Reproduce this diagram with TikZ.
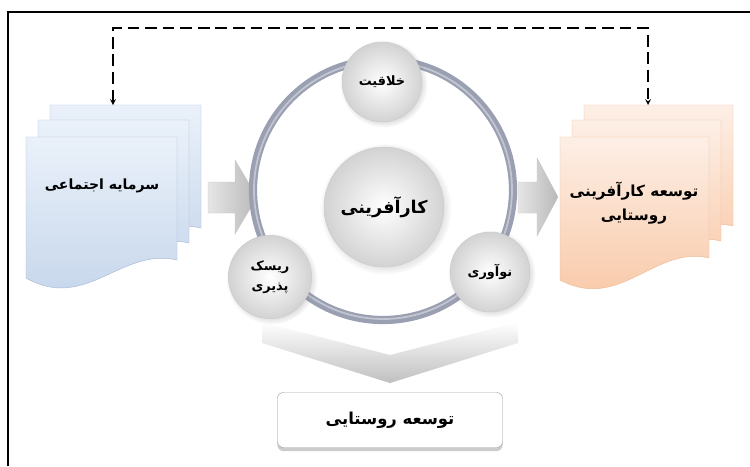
\documentclass[tikz,border=0pt]{standalone}
\usepackage{fontspec}
\newfontfamily\fa[Script=Arabic]{DejaVu Sans}
\TeXXeTstate=1
\usetikzlibrary{shadows}
\definecolor{capTop}{HTML}{EAF1FA}
\definecolor{capBot}{HTML}{C3D4EA}
\definecolor{capLine}{HTML}{A7BAD5}
\definecolor{rurTop}{HTML}{FDEFE6}
\definecolor{rurBot}{HTML}{F8C6A3}
\definecolor{rurLine}{HTML}{EDBB98}
\definecolor{ringGray}{HTML}{9AA0B2}
\tikzset{
  ball/.style={circle, inner color=white, outer color=gray!35, draw=gray!40,
    circular drop shadow={opacity=0.25}, align=center, font=\fa\bfseries},
  capdoc/.style={draw=capLine, top color=capTop, bottom color=capBot},
  rurdoc/.style={draw=rurLine, top color=rurTop, bottom color=rurBot},
  doctext/.style={align=center, font=\fa\bfseries\fontsize{13}{21}\selectfont},
  blockarrow/.style={draw=gray!45, left color=gray!20, right color=gray!55},
  feedback/.style={<->, >=stealth, line width=1.2pt, dash pattern=on 10pt off 5pt}
}
\begin{document}
\begin{tikzpicture}[x=0.03cm, y=-0.03cm]
    \useasboundingbox (0,0) rectangle (750,466);
    \draw[line width=1.5pt] (8,466) -- (8,12) -- (750,12);

    % stacked documents
    \foreach \dx/\dy in {24/-32,12/-17,0/0}{
        \path[capdoc, shift={(26+\dx,137+\dy)}] (0,0) -- (151,0) -- (151,123)
            .. controls (95,110) and (60,175) .. (0,141) -- cycle;
        \path[rurdoc, shift={(560+\dx,137+\dy)}] (0,0) -- (149,0) -- (149,121)
            .. controls (95,108) and (60,175) .. (0,143) -- cycle;
    }
    \node[doctext, font=\fa\bfseries\fontsize{12}{14}\selectfont] (capital) at (102,186) {\beginR سرمایه اجتماعی\endR};
    \node[doctext] (rurent) at (634,203) {\beginR توسعه کارآفرینی\endR\\\beginR روستایی\endR};

    \coordinate (capIn) at (113,105);
    \coordinate (rurIn) at (648,105);
    \coordinate (dashTop) at (0,28);
    \draw[feedback] (capIn) -- (capIn |- dashTop) -| (rurIn);

    % block arrows
    \path[blockarrow] (208,182) -- (235,182) -- (235,160) -- (257,197)
        -- (235,234) -- (235,213) -- (208,213) -- cycle;
    \path[blockarrow] (518,182) -- (537,182) -- (537,158) -- (558,197)
        -- (537,236) -- (537,213) -- (518,213) -- cycle;
    \path[top color=white, bottom color=gray!50] (262,322) -- (390,355) -- (518,322)
        -- (518,343) -- (390,383) -- (262,343) -- cycle;

    % ring
    \draw[ringGray, line width=7pt] (383,190) circle (130);
    \draw[ringGray!60, line width=1.5pt] (383,190) circle (129);

    \node[ball, minimum size=2.4cm, font=\fa\bfseries\fontsize{11}{13}\selectfont] (creat) at (382,82) {\beginR خلاقیت\endR};
    \node[ball, minimum size=3.6cm, font=\fa\bfseries\fontsize{15}{17}\selectfont] (entre) at (384,207) {\beginR کارآفرینی\endR};
    \node[ball, minimum size=2.5cm, font=\fa\bfseries\fontsize{11}{17}\selectfont] (risk) at (270,277) {\beginR ریسک\endR\\\beginR پذیری\endR};
    \node[ball, minimum size=2.4cm, font=\fa\bfseries\fontsize{11}{13}\selectfont] (innov) at (490,272) {\beginR نوآوری\endR};

    \node[draw=gray!70, fill=white, rounded corners=5pt, minimum width=6.75cm, minimum height=1.65cm,
        drop shadow={shadow xshift=0pt, shadow yshift=-3pt, opacity=0.4},
        font=\fa\bfseries\fontsize{14}{16}\selectfont] (rdev) at (390,420) {\beginR توسعه روستایی\endR};
\end{tikzpicture}
\end{document}
